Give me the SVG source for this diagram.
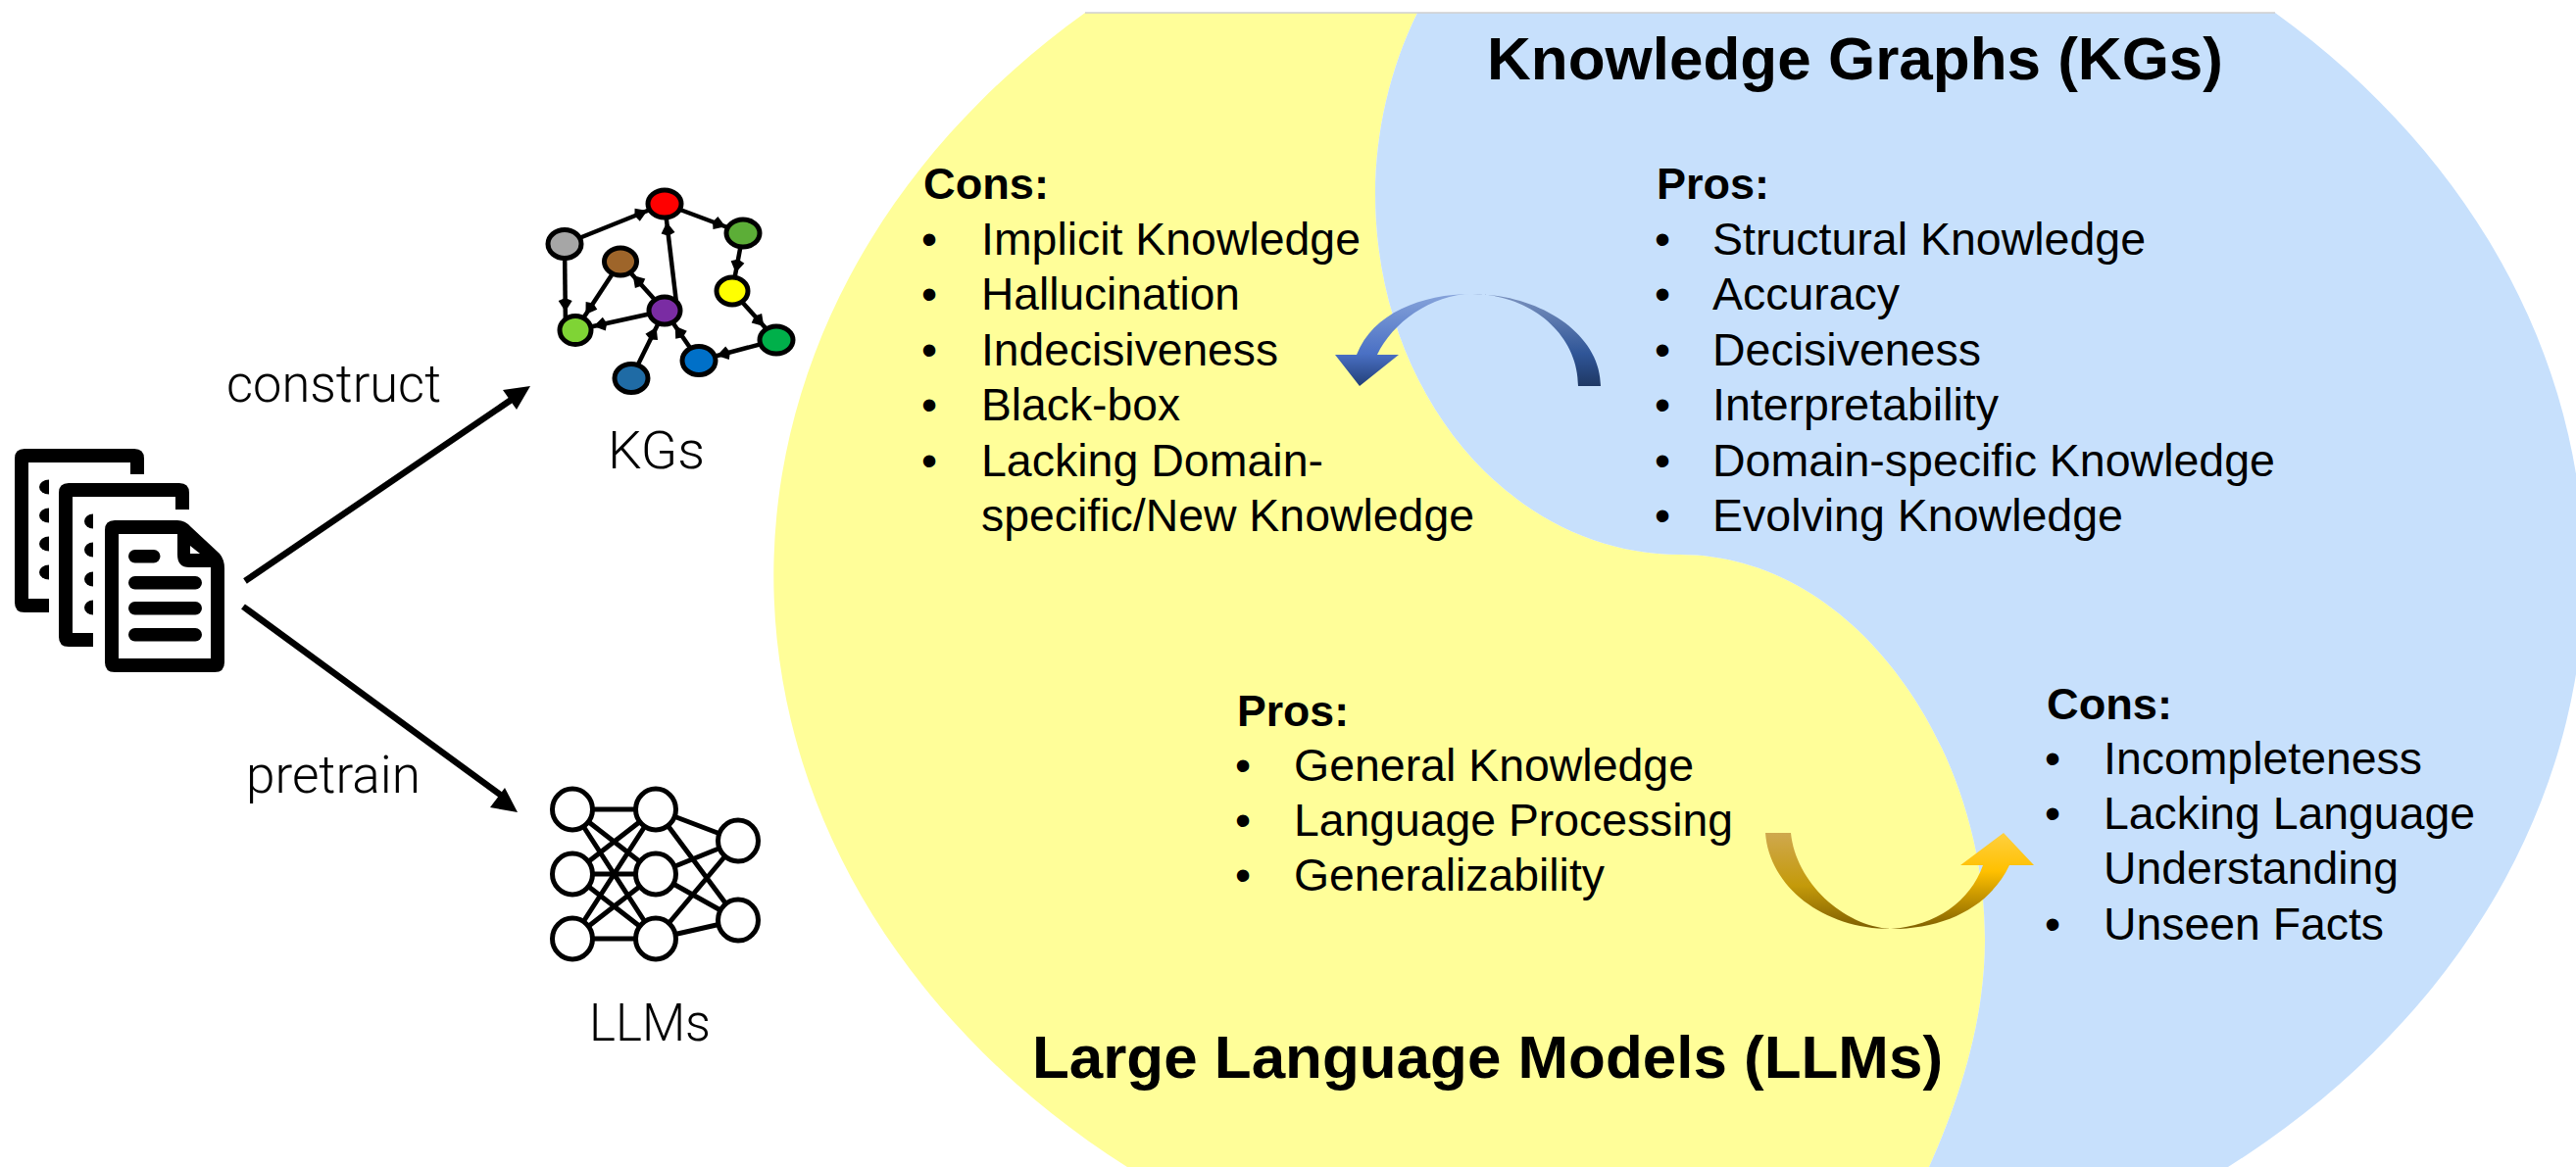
<svg xmlns="http://www.w3.org/2000/svg" width="2628" height="1191" viewBox="0 0 2628 1191">
<style>
text{font-family:"Liberation Sans",Arial,sans-serif;fill:#000}
.t{font-size:45px;font-weight:700}
.i{font-size:46px}
.h{font-size:62px;font-weight:700}
.l{font-family:Roboto,"Liberation Sans",sans-serif;font-weight:300;font-size:54px}
.ink{fill:#000}
.gap{fill:#fff}
.bar{fill:#000}
.kg{stroke:#000;stroke-width:5}
.kge{stroke:#000;stroke-width:4.5;fill:none;marker-end:url(#kgHead)}
.nn{fill:#fff;stroke:#000;stroke-width:5}
.nne{stroke:#000;stroke-width:5;fill:none}
.arrow{stroke:#000;stroke-width:6.5;fill:none}
</style>
<defs>
<marker id="kgHead" markerUnits="userSpaceOnUse" markerWidth="44" markerHeight="24" refX="33" refY="12" orient="auto" viewBox="0 0 44 24"><path d="M0,12 L3,5 L14,12 L3,19 Z" fill="#000"/></marker>
<linearGradient id="blueL" gradientUnits="userSpaceOnUse" x1="0" y1="300" x2="0" y2="394"><stop offset="0" stop-color="#86A3DA"/><stop offset=".65" stop-color="#4A70C4"/><stop offset="1" stop-color="#223F78"/></linearGradient>
<linearGradient id="blueR" gradientUnits="userSpaceOnUse" x1="0" y1="300" x2="0" y2="394"><stop offset="0" stop-color="#7C93BF"/><stop offset=".65" stop-color="#2F5597"/><stop offset="1" stop-color="#1F3864"/></linearGradient>
<linearGradient id="goldL" gradientUnits="userSpaceOnUse" x1="0" y1="850" x2="0" y2="948"><stop offset="0" stop-color="#CFA84E"/><stop offset=".55" stop-color="#C49A0A"/><stop offset="1" stop-color="#7F5F00"/></linearGradient>
<linearGradient id="goldR" gradientUnits="userSpaceOnUse" x1="0" y1="850" x2="0" y2="948"><stop offset="0" stop-color="#FFD040"/><stop offset=".4" stop-color="#FFC000"/><stop offset="1" stop-color="#7F6000"/></linearGradient>
</defs>

<g id="venn-llm"><path d="M1107,13 L1446,13 C1418,70 1403,135 1403,198 C1403,400 1540,566 1714,566 C1890,566 2025,760 2025,959 C2025,1040 2000,1120 1968,1191 L1150,1191 A923,761 0 0 1 1107,13 Z" fill="#FFFE99"/></g>
<g id="venn-kg"><path d="M1446,13 L2321,13 A923,761 0 0 1 2273,1191 L1968,1191 C2000,1120 2025,1040 2025,959 C2025,760 1890,566 1714,566 C1540,566 1403,400 1403,198 C1403,135 1418,70 1446,13 Z" fill="#C7E0FC"/></g>
<path d="M1107,13 H2321" stroke="#cfcfcf" stroke-width="1.5" fill="none"/>

<g id="documents">
<path class="ink" d="M15,468 Q15,458 25,458 H137 Q147,458 147,468 V484 H133 V472 H29 V611 H50 V625 H25 Q15,625 15,615 Z"/>
<g class="ink"><ellipse cx="50" cy="497" rx="10" ry="7.500"/><ellipse cx="50" cy="526" rx="10" ry="7.500"/><ellipse cx="50" cy="555" rx="10" ry="7.500"/><ellipse cx="50" cy="584" rx="10" ry="7.500"/></g>
<rect class="gap" x="50" y="486" width="150" height="180"/>
<path class="ink" d="M60,503 Q60,493 70,493 H183 Q193,493 193,503 V520 H179 V507 H74 V646 H95 V660 H70 Q60,660 60,650 Z"/>
<g class="ink"><ellipse cx="95" cy="532" rx="9" ry="7.500"/><ellipse cx="95" cy="561" rx="9" ry="7.500"/><ellipse cx="95" cy="591" rx="9" ry="7.500"/><ellipse cx="95" cy="620" rx="9" ry="7.500"/></g>
<rect class="gap" x="95" y="524" width="140" height="165"/>
<path class="ink" fill-rule="evenodd" d="M107,541 Q107,531 117,531 H181 Q189,531 195,538 L224,565 Q229,571 229,580 V676 Q229,686 219,686 H117 Q107,686 107,676 Z M121,545 V672 H215 V579 H193 Q181,579 181,566 V545 Z M194,557 V565 H204 Z"/>
<rect class="bar" x="131" y="561" width="32.500" height="13.500" rx="6.700"/>
<rect class="bar" x="131" y="588" width="75" height="13.500" rx="6.700"/>
<rect class="bar" x="131" y="614" width="75" height="13.500" rx="6.700"/>
<rect class="bar" x="131" y="641" width="75" height="13.500" rx="6.700"/>
</g>

<g id="kg-icon">
<g id="kg-edges">
<path class="kge" d="M576,249 L678,208"/>
<path class="kge" d="M678,208 L758,238"/>
<path class="kge" d="M758,238 L747,297"/>
<path class="kge" d="M747,297 L792,347"/>
<path class="kge" d="M792,347 L713,368"/>
<path class="kge" d="M713,368 L678,317"/>
<path class="kge" d="M644,386 L678,317"/>
<path class="kge" d="M678,317 L587,337"/>
<path class="kge" d="M691,317 L678,208"/>
<path class="kge" d="M678,317 L633,267"/>
<path class="kge" d="M633,267 L587,337"/>
<path class="kge" d="M576,249 L577,337"/>
</g>
<ellipse class="kg" cx="678" cy="208" rx="17" ry="14" fill="#FF0000"/>
<ellipse class="kg" cx="758" cy="238" rx="17" ry="14" fill="#5CAE37"/>
<ellipse class="kg" cx="576" cy="249" rx="17" ry="14.500" fill="#A6A6A6"/>
<ellipse class="kg" cx="633" cy="267" rx="16.500" ry="14" fill="#9E652A"/>
<ellipse class="kg" cx="747" cy="297" rx="16" ry="14" fill="#FFFF00"/>
<ellipse class="kg" cx="678" cy="317" rx="16" ry="14" fill="#7A2CA3"/>
<ellipse class="kg" cx="587" cy="337" rx="16" ry="14.500" fill="#7FD435"/>
<ellipse class="kg" cx="792" cy="347" rx="17" ry="14" fill="#00B04A"/>
<ellipse class="kg" cx="713" cy="368" rx="17" ry="14.500" fill="#0070C8"/>
<ellipse class="kg" cx="644" cy="386" rx="17" ry="14.500" fill="#1F6BA5"/>
</g>

<g id="llm-icon">
<g id="llm-edges">
<path class="nne" d="M584,826 L669,826 M584,826 L669,892 M584,826 L669,958 M584,892 L669,826 M584,892 L669,892 M584,892 L669,958 M584,958 L669,826 M584,958 L669,892 M584,958 L669,958 M669,826 L753,858 M669,826 L753,939 M669,892 L753,858 M669,892 L753,939 M669,958 L753,858 M669,958 L753,939"/>
</g>
<ellipse class="nn" cx="584" cy="826" rx="20.500" ry="21"/>
<ellipse class="nn" cx="584" cy="892" rx="20.500" ry="21"/>
<ellipse class="nn" cx="584" cy="958" rx="20.500" ry="21"/>
<ellipse class="nn" cx="669" cy="826" rx="20.500" ry="21"/>
<ellipse class="nn" cx="669" cy="892" rx="20.500" ry="21"/>
<ellipse class="nn" cx="669" cy="958" rx="20.500" ry="21"/>
<ellipse class="nn" cx="753" cy="858" rx="20.500" ry="21"/>
<ellipse class="nn" cx="753" cy="939" rx="20.500" ry="21"/>
</g>

<g id="connectors">
<path class="arrow" d="M250,593 L523,407"/>
<path d="M541,394 L513,398 L527,418 Z" class="ink"/>
<path class="arrow" d="M248,619 L513,813"/>
<path d="M528,829 L515,804 L500,824 Z" class="ink"/>
<path fill="url(#blueR)" d="M1502,300 C1570,300 1633,340 1633,394 L1610,394 C1610,340 1560,300 1502,300 Z"/>
<path fill="url(#blueL)" d="M1502,300 C1450,300 1400,320 1384,362 L1362,362 L1387,394 L1427,362 L1405,362 C1420,330 1460,300 1502,300 Z"/>
<path fill="url(#goldL)" d="M1801,850 L1827,850 C1832,900 1880,945 1929,948 C1860,948 1805,905 1801,850 Z"/>
<path fill="url(#goldR)" d="M1929,948 C1975,945 2010,920 2023,883 L2000,883 L2044,850 L2075,883 L2050,883 C2030,925 1985,948 1929,948 Z"/>
</g>

<g id="labels">
<text class="l" x="231" y="410" textLength="219" lengthAdjust="spacingAndGlyphs">construct</text>
<text class="l" x="620" y="478" textLength="99" lengthAdjust="spacingAndGlyphs">KGs</text>
<text class="l" x="251" y="809" textLength="178" lengthAdjust="spacingAndGlyphs">pretrain</text>
<text class="l" x="601" y="1062" textLength="124" lengthAdjust="spacingAndGlyphs">LLMs</text>
</g>

<g id="title-kg"><text class="h" x="1517" y="81" textLength="751" lengthAdjust="spacingAndGlyphs">Knowledge Graphs (KGs)</text></g>
<g id="title-llm"><text class="h" x="1053" y="1100" textLength="929" lengthAdjust="spacingAndGlyphs">Large Language Models (LLMs)</text></g>

<g id="llm-cons">
<text class="t" x="942" y="203" textLength="128" lengthAdjust="spacingAndGlyphs">Cons:</text>
<text class="i" x="940" y="260">•</text><text class="i" x="1001" y="260" textLength="387" lengthAdjust="spacingAndGlyphs">Implicit Knowledge</text>
<text class="i" x="940" y="316">•</text><text class="i" x="1001" y="316" textLength="264" lengthAdjust="spacingAndGlyphs">Hallucination</text>
<text class="i" x="940" y="373">•</text><text class="i" x="1001" y="373" textLength="303" lengthAdjust="spacingAndGlyphs">Indecisiveness</text>
<text class="i" x="940" y="429">•</text><text class="i" x="1001" y="429" textLength="203" lengthAdjust="spacingAndGlyphs">Black-box</text>
<text class="i" x="940" y="486">•</text><text class="i" x="1001" y="486" textLength="349" lengthAdjust="spacingAndGlyphs">Lacking Domain-</text>
<text class="i" x="1001" y="542" textLength="503" lengthAdjust="spacingAndGlyphs">specific/New Knowledge</text>
</g>

<g id="kg-pros">
<text class="t" x="1690" y="203" textLength="115" lengthAdjust="spacingAndGlyphs">Pros:</text>
<text class="i" x="1688" y="260">•</text><text class="i" x="1747" y="260" textLength="442" lengthAdjust="spacingAndGlyphs">Structural Knowledge</text>
<text class="i" x="1688" y="316">•</text><text class="i" x="1747" y="316" textLength="191" lengthAdjust="spacingAndGlyphs">Accuracy</text>
<text class="i" x="1688" y="373">•</text><text class="i" x="1747" y="373" textLength="274" lengthAdjust="spacingAndGlyphs">Decisiveness</text>
<text class="i" x="1688" y="429">•</text><text class="i" x="1747" y="429" textLength="292" lengthAdjust="spacingAndGlyphs">Interpretability</text>
<text class="i" x="1688" y="486">•</text><text class="i" x="1747" y="486" textLength="574" lengthAdjust="spacingAndGlyphs">Domain-specific Knowledge</text>
<text class="i" x="1688" y="542">•</text><text class="i" x="1747" y="542" textLength="419" lengthAdjust="spacingAndGlyphs">Evolving Knowledge</text>
</g>

<g id="llm-pros">
<text class="t" x="1262" y="741" textLength="114" lengthAdjust="spacingAndGlyphs">Pros:</text>
<text class="i" x="1260" y="797">•</text><text class="i" x="1320" y="797" textLength="408" lengthAdjust="spacingAndGlyphs">General Knowledge</text>
<text class="i" x="1260" y="853">•</text><text class="i" x="1320" y="853" textLength="448" lengthAdjust="spacingAndGlyphs">Language Processing</text>
<text class="i" x="1260" y="909">•</text><text class="i" x="1320" y="909" textLength="317" lengthAdjust="spacingAndGlyphs">Generalizability</text>
</g>

<g id="kg-cons">
<text class="t" x="2088" y="734" textLength="128" lengthAdjust="spacingAndGlyphs">Cons:</text>
<text class="i" x="2086" y="790">•</text><text class="i" x="2146" y="790" textLength="325" lengthAdjust="spacingAndGlyphs">Incompleteness</text>
<text class="i" x="2086" y="846">•</text><text class="i" x="2146" y="846" textLength="379" lengthAdjust="spacingAndGlyphs">Lacking Language</text>
<text class="i" x="2146" y="902" textLength="301" lengthAdjust="spacingAndGlyphs">Understanding</text>
<text class="i" x="2086" y="959">•</text><text class="i" x="2146" y="959" textLength="286" lengthAdjust="spacingAndGlyphs">Unseen Facts</text>
</g>
</svg>
